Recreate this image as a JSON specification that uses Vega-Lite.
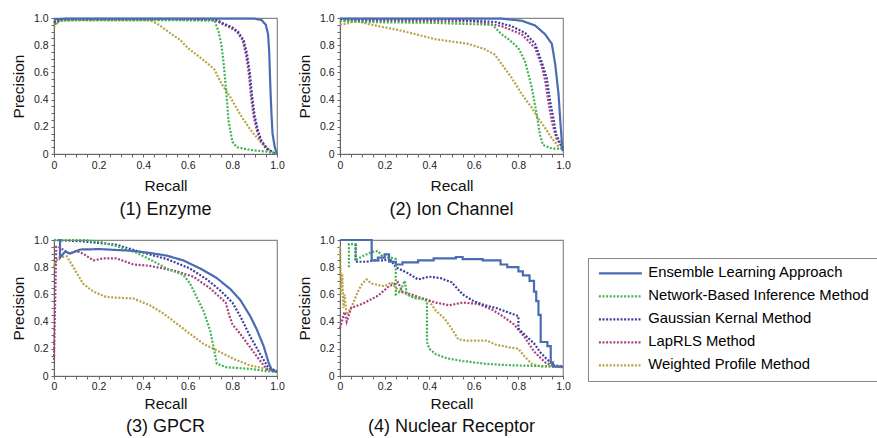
{
  "$schema": "https://vega.github.io/schema/vega-lite/v6.json",
  "padding": {"left": 10, "top": 12, "right": 0, "bottom": 0},
  "autosize": {"type": "pad"},
  "config": {
    "font": "Liberation Sans",
    "view": {"stroke": "#888", "strokeWidth": 1.2},
    "axis": {"labelFontSize": 10.5, "labelColor": "#222", "titleFontSize": 15.5, "titleFontWeight": "normal", "titleColor": "#111", "domainColor": "#666", "tickColor": "#666", "tickSize": 3, "grid": false, "labelFlush": false, "labelOverlap": false},
    "axisX": {"labelPadding": 3, "titlePadding": 8},
    "axisY": {"labelPadding": 3, "titlePadding": 7},
    "title": {"orient": "bottom", "fontSize": 18, "fontWeight": "normal", "anchor": "middle", "frame": "group", "offset": 7, "color": "#111"},
    "line": {"strokeWidth": 2.2, "strokeCap": "butt"},
    "legend": {"orient": "none", "legendX": 534, "legendY": 240, "title": null, "labelFontSize": 14.8, "symbolType": "M-4.3,0H4.3", "symbolSize": 100, "symbolStrokeWidth": 2, "symbolOffset": 17, "labelOffset": 20.5, "strokeColor": "#888", "fillColor": "white", "padding": 8, "rowPadding": 7, "labelLimit": 400}
  },
  "datasets": {
    "enzyme": [
      {"method":"W","recall":0,"precision":0.93},{"method":"W","recall":0.02,"precision":0.98},{"method":"W","recall":0.1,"precision":0.985},{"method":"W","recall":0.43,"precision":0.985},{"method":"W","recall":0.47,"precision":0.95},{"method":"W","recall":0.52,"precision":0.89},{"method":"W","recall":0.565,"precision":0.84},{"method":"W","recall":0.6,"precision":0.78},{"method":"W","recall":0.655,"precision":0.71},{"method":"W","recall":0.7,"precision":0.65},{"method":"W","recall":0.72,"precision":0.62},{"method":"W","recall":0.75,"precision":0.52},{"method":"W","recall":0.79,"precision":0.42},{"method":"W","recall":0.835,"precision":0.29},{"method":"W","recall":0.88,"precision":0.18},{"method":"W","recall":0.925,"precision":0.09},{"method":"W","recall":0.97,"precision":0.025},{"method":"W","recall":1.0,"precision":0},
      {"method":"L","recall":0,"precision":0.96},{"method":"L","recall":0.03,"precision":0.985},{"method":"L","recall":0.5,"precision":0.99},{"method":"L","recall":0.72,"precision":0.985},{"method":"L","recall":0.75,"precision":0.96},{"method":"L","recall":0.79,"precision":0.93},{"method":"L","recall":0.82,"precision":0.9},{"method":"L","recall":0.845,"precision":0.84},{"method":"L","recall":0.86,"precision":0.74},{"method":"L","recall":0.873,"precision":0.6},{"method":"L","recall":0.883,"precision":0.43},{"method":"L","recall":0.895,"precision":0.28},{"method":"L","recall":0.91,"precision":0.17},{"method":"L","recall":0.925,"precision":0.1},{"method":"L","recall":0.95,"precision":0.04},{"method":"L","recall":0.985,"precision":0.005},{"method":"L","recall":1.0,"precision":0},
      {"method":"G","recall":0,"precision":0.97},{"method":"G","recall":0.03,"precision":0.99},{"method":"G","recall":0.5,"precision":0.99},{"method":"G","recall":0.73,"precision":0.985},{"method":"G","recall":0.76,"precision":0.96},{"method":"G","recall":0.8,"precision":0.93},{"method":"G","recall":0.825,"precision":0.9},{"method":"G","recall":0.85,"precision":0.84},{"method":"G","recall":0.865,"precision":0.74},{"method":"G","recall":0.878,"precision":0.6},{"method":"G","recall":0.888,"precision":0.43},{"method":"G","recall":0.9,"precision":0.28},{"method":"G","recall":0.915,"precision":0.17},{"method":"G","recall":0.93,"precision":0.1},{"method":"G","recall":0.955,"precision":0.04},{"method":"G","recall":0.99,"precision":0.005},{"method":"G","recall":1.0,"precision":0},
      {"method":"N","recall":0,"precision":0.95},{"method":"N","recall":0.03,"precision":0.98},{"method":"N","recall":0.1,"precision":0.985},{"method":"N","recall":0.5,"precision":0.985},{"method":"N","recall":0.72,"precision":0.98},{"method":"N","recall":0.738,"precision":0.9},{"method":"N","recall":0.75,"precision":0.81},{"method":"N","recall":0.76,"precision":0.68},{"method":"N","recall":0.775,"precision":0.41},{"method":"N","recall":0.783,"precision":0.24},{"method":"N","recall":0.8,"precision":0.09},{"method":"N","recall":0.82,"precision":0.05},{"method":"N","recall":0.88,"precision":0.03},{"method":"N","recall":0.955,"precision":0.017},{"method":"N","recall":1.0,"precision":0},
      {"method":"E","recall":0,"precision":0.99},{"method":"E","recall":0.05,"precision":0.995},{"method":"E","recall":0.5,"precision":0.995},{"method":"E","recall":0.9,"precision":0.995},{"method":"E","recall":0.93,"precision":0.985},{"method":"E","recall":0.95,"precision":0.95},{"method":"E","recall":0.96,"precision":0.88},{"method":"E","recall":0.965,"precision":0.75},{"method":"E","recall":0.97,"precision":0.5},{"method":"E","recall":0.975,"precision":0.3},{"method":"E","recall":0.98,"precision":0.15},{"method":"E","recall":0.99,"precision":0.05},{"method":"E","recall":1.0,"precision":0}
    ],
    "ion": [
      {"method":"W","recall":0,"precision":0.95},{"method":"W","recall":0.03,"precision":0.96},{"method":"W","recall":0.08,"precision":0.98},{"method":"W","recall":0.127,"precision":0.955},{"method":"W","recall":0.277,"precision":0.906},{"method":"W","recall":0.426,"precision":0.845},{"method":"W","recall":0.575,"precision":0.81},{"method":"W","recall":0.65,"precision":0.77},{"method":"W","recall":0.695,"precision":0.73},{"method":"W","recall":0.725,"precision":0.66},{"method":"W","recall":0.77,"precision":0.56},{"method":"W","recall":0.815,"precision":0.44},{"method":"W","recall":0.86,"precision":0.34},{"method":"W","recall":0.89,"precision":0.26},{"method":"W","recall":0.92,"precision":0.19},{"method":"W","recall":0.95,"precision":0.116},{"method":"W","recall":0.98,"precision":0.054},{"method":"W","recall":1.0,"precision":0.037},
      {"method":"L","recall":0,"precision":0.98},{"method":"L","recall":0.6,"precision":0.975},{"method":"L","recall":0.725,"precision":0.94},{"method":"L","recall":0.815,"precision":0.88},{"method":"L","recall":0.875,"precision":0.78},{"method":"L","recall":0.904,"precision":0.65},{"method":"L","recall":0.92,"precision":0.54},{"method":"L","recall":0.934,"precision":0.39},{"method":"L","recall":0.95,"precision":0.24},{"method":"L","recall":0.97,"precision":0.116},{"method":"L","recall":1.0,"precision":0.04},
      {"method":"G","recall":0,"precision":0.99},{"method":"G","recall":0.5,"precision":0.99},{"method":"G","recall":0.7,"precision":0.97},{"method":"G","recall":0.77,"precision":0.94},{"method":"G","recall":0.83,"precision":0.89},{"method":"G","recall":0.875,"precision":0.81},{"method":"G","recall":0.904,"precision":0.68},{"method":"G","recall":0.927,"precision":0.56},{"method":"G","recall":0.94,"precision":0.41},{"method":"G","recall":0.957,"precision":0.26},{"method":"G","recall":0.97,"precision":0.14},{"method":"G","recall":1.0,"precision":0.04},
      {"method":"N","recall":0,"precision":0.98},{"method":"N","recall":0.1,"precision":0.97},{"method":"N","recall":0.4,"precision":0.965},{"method":"N","recall":0.68,"precision":0.95},{"method":"N","recall":0.695,"precision":0.93},{"method":"N","recall":0.725,"precision":0.88},{"method":"N","recall":0.755,"precision":0.845},{"method":"N","recall":0.8,"precision":0.78},{"method":"N","recall":0.83,"precision":0.68},{"method":"N","recall":0.86,"precision":0.49},{"method":"N","recall":0.88,"precision":0.31},{"method":"N","recall":0.897,"precision":0.14},{"method":"N","recall":0.91,"precision":0.067},{"method":"N","recall":0.95,"precision":0.04},{"method":"N","recall":1.0,"precision":0.037},
      {"method":"E","recall":0,"precision":0.995},{"method":"E","recall":0.5,"precision":0.995},{"method":"E","recall":0.725,"precision":0.995},{"method":"E","recall":0.815,"precision":0.98},{"method":"E","recall":0.875,"precision":0.945},{"method":"E","recall":0.92,"precision":0.88},{"method":"E","recall":0.95,"precision":0.81},{"method":"E","recall":0.965,"precision":0.66},{"method":"E","recall":0.98,"precision":0.44},{"method":"E","recall":0.988,"precision":0.24},{"method":"E","recall":0.997,"precision":0.04},{"method":"E","recall":1.0,"precision":0.02}
    ],
    "gpcr": [
      {"method":"W","recall":0,"precision":0.8},{"method":"W","recall":0.005,"precision":0.83},{"method":"W","recall":0.02,"precision":0.87},{"method":"W","recall":0.057,"precision":0.88},{"method":"W","recall":0.087,"precision":0.8},{"method":"W","recall":0.13,"precision":0.68},{"method":"W","recall":0.177,"precision":0.62},{"method":"W","recall":0.236,"precision":0.58},{"method":"W","recall":0.356,"precision":0.57},{"method":"W","recall":0.43,"precision":0.52},{"method":"W","recall":0.49,"precision":0.46},{"method":"W","recall":0.55,"precision":0.385},{"method":"W","recall":0.61,"precision":0.31},{"method":"W","recall":0.67,"precision":0.237},{"method":"W","recall":0.73,"precision":0.188},{"method":"W","recall":0.805,"precision":0.126},{"method":"W","recall":0.88,"precision":0.077},{"method":"W","recall":0.955,"precision":0.052},{"method":"W","recall":1.0,"precision":0.035},
      {"method":"L","recall":0,"precision":0.12},{"method":"L","recall":0.01,"precision":0.95},{"method":"L","recall":0.02,"precision":0.95},{"method":"L","recall":0.04,"precision":0.93},{"method":"L","recall":0.07,"precision":0.9},{"method":"L","recall":0.1,"precision":0.92},{"method":"L","recall":0.13,"precision":0.9},{"method":"L","recall":0.177,"precision":0.85},{"method":"L","recall":0.22,"precision":0.865},{"method":"L","recall":0.28,"precision":0.865},{"method":"L","recall":0.356,"precision":0.82},{"method":"L","recall":0.43,"precision":0.81},{"method":"L","recall":0.55,"precision":0.77},{"method":"L","recall":0.625,"precision":0.73},{"method":"L","recall":0.7,"precision":0.645},{"method":"L","recall":0.77,"precision":0.54},{"method":"L","recall":0.785,"precision":0.45},{"method":"L","recall":0.8,"precision":0.38},{"method":"L","recall":0.835,"precision":0.31},{"method":"L","recall":0.88,"precision":0.21},{"method":"L","recall":0.925,"precision":0.11},{"method":"L","recall":0.955,"precision":0.05},{"method":"L","recall":1.0,"precision":0.035},
      {"method":"G","recall":0,"precision":1.0},{"method":"G","recall":0.13,"precision":0.99},{"method":"G","recall":0.28,"precision":0.965},{"method":"G","recall":0.37,"precision":0.92},{"method":"G","recall":0.506,"precision":0.86},{"method":"G","recall":0.61,"precision":0.79},{"method":"G","recall":0.685,"precision":0.71},{"method":"G","recall":0.745,"precision":0.63},{"method":"G","recall":0.8,"precision":0.54},{"method":"G","recall":0.835,"precision":0.44},{"method":"G","recall":0.88,"precision":0.29},{"method":"G","recall":0.925,"precision":0.16},{"method":"G","recall":0.96,"precision":0.064},{"method":"G","recall":1.0,"precision":0.035},
      {"method":"N","recall":0,"precision":1.0},{"method":"N","recall":0.13,"precision":1.0},{"method":"N","recall":0.2,"precision":0.99},{"method":"N","recall":0.28,"precision":0.955},{"method":"N","recall":0.37,"precision":0.906},{"method":"N","recall":0.43,"precision":0.857},{"method":"N","recall":0.506,"precision":0.79},{"method":"N","recall":0.58,"precision":0.743},{"method":"N","recall":0.61,"precision":0.68},{"method":"N","recall":0.64,"precision":0.58},{"method":"N","recall":0.67,"precision":0.48},{"method":"N","recall":0.7,"precision":0.336},{"method":"N","recall":0.716,"precision":0.21},{"method":"N","recall":0.73,"precision":0.09},{"method":"N","recall":0.775,"precision":0.064},{"method":"N","recall":0.88,"precision":0.052},{"method":"N","recall":0.955,"precision":0.035},{"method":"N","recall":1.0,"precision":0.03},
      {"method":"E","recall":0.02,"precision":1.0},{"method":"E","recall":0.027,"precision":1.0},{"method":"E","recall":0.027,"precision":0.87},{"method":"E","recall":0.05,"precision":0.915},{"method":"E","recall":0.072,"precision":0.9},{"method":"E","recall":0.117,"precision":0.93},{"method":"E","recall":0.207,"precision":0.933},{"method":"E","recall":0.356,"precision":0.92},{"method":"E","recall":0.43,"precision":0.905},{"method":"E","recall":0.506,"precision":0.885},{"method":"E","recall":0.58,"precision":0.85},{"method":"E","recall":0.656,"precision":0.79},{"method":"E","recall":0.73,"precision":0.72},{"method":"E","recall":0.79,"precision":0.64},{"method":"E","recall":0.835,"precision":0.56},{"method":"E","recall":0.88,"precision":0.44},{"method":"E","recall":0.91,"precision":0.34},{"method":"E","recall":0.94,"precision":0.22},{"method":"E","recall":0.962,"precision":0.1},{"method":"E","recall":0.978,"precision":0.04},{"method":"E","recall":1.0,"precision":0.03}
    ],
    "nuclear": [
      {"method":"W","recall":0,"precision":0.95},{"method":"W","recall":0.005,"precision":0.6},{"method":"W","recall":0.01,"precision":0.75},{"method":"W","recall":0.015,"precision":0.5},{"method":"W","recall":0.02,"precision":0.6},{"method":"W","recall":0.03,"precision":0.45},{"method":"W","recall":0.05,"precision":0.5},{"method":"W","recall":0.08,"precision":0.62},{"method":"W","recall":0.1,"precision":0.68},{"method":"W","recall":0.12,"precision":0.71},{"method":"W","recall":0.14,"precision":0.68},{"method":"W","recall":0.17,"precision":0.67},{"method":"W","recall":0.2,"precision":0.66},{"method":"W","recall":0.23,"precision":0.69},{"method":"W","recall":0.26,"precision":0.63},{"method":"W","recall":0.3,"precision":0.6},{"method":"W","recall":0.34,"precision":0.57},{"method":"W","recall":0.38,"precision":0.57},{"method":"W","recall":0.4,"precision":0.55},{"method":"W","recall":0.43,"precision":0.48},{"method":"W","recall":0.47,"precision":0.42},{"method":"W","recall":0.5,"precision":0.35},{"method":"W","recall":0.53,"precision":0.27},{"method":"W","recall":0.57,"precision":0.26},{"method":"W","recall":0.62,"precision":0.26},{"method":"W","recall":0.66,"precision":0.26},{"method":"W","recall":0.7,"precision":0.23},{"method":"W","recall":0.76,"precision":0.21},{"method":"W","recall":0.8,"precision":0.2},{"method":"W","recall":0.83,"precision":0.14},{"method":"W","recall":0.86,"precision":0.09},{"method":"W","recall":0.9,"precision":0.07},{"method":"W","recall":1.0,"precision":0.065},
      {"method":"L","recall":0,"precision":0.35},{"method":"L","recall":0.02,"precision":0.47},{"method":"L","recall":0.03,"precision":0.4},{"method":"L","recall":0.05,"precision":0.5},{"method":"L","recall":0.1,"precision":0.53},{"method":"L","recall":0.17,"precision":0.59},{"method":"L","recall":0.22,"precision":0.66},{"method":"L","recall":0.26,"precision":0.69},{"method":"L","recall":0.28,"precision":0.62},{"method":"L","recall":0.32,"precision":0.6},{"method":"L","recall":0.37,"precision":0.57},{"method":"L","recall":0.43,"precision":0.54},{"method":"L","recall":0.49,"precision":0.52},{"method":"L","recall":0.55,"precision":0.54},{"method":"L","recall":0.62,"precision":0.53},{"method":"L","recall":0.68,"precision":0.49},{"method":"L","recall":0.72,"precision":0.45},{"method":"L","recall":0.78,"precision":0.38},{"method":"L","recall":0.83,"precision":0.28},{"method":"L","recall":0.87,"precision":0.18},{"method":"L","recall":0.92,"precision":0.1},{"method":"L","recall":0.96,"precision":0.07},{"method":"L","recall":1.0,"precision":0.065},
      {"method":"G","recall":0.07,"precision":0.97},{"method":"G","recall":0.07,"precision":0.84},{"method":"G","recall":0.12,"precision":0.84},{"method":"G","recall":0.15,"precision":0.85},{"method":"G","recall":0.2,"precision":0.85},{"method":"G","recall":0.22,"precision":0.87},{"method":"G","recall":0.25,"precision":0.8},{"method":"G","recall":0.3,"precision":0.76},{"method":"G","recall":0.35,"precision":0.71},{"method":"G","recall":0.4,"precision":0.73},{"method":"G","recall":0.45,"precision":0.72},{"method":"G","recall":0.5,"precision":0.69},{"method":"G","recall":0.55,"precision":0.6},{"method":"G","recall":0.6,"precision":0.55},{"method":"G","recall":0.65,"precision":0.52},{"method":"G","recall":0.7,"precision":0.5},{"method":"G","recall":0.75,"precision":0.47},{"method":"G","recall":0.8,"precision":0.44},{"method":"G","recall":0.8,"precision":0.35},{"method":"G","recall":0.83,"precision":0.3},{"method":"G","recall":0.87,"precision":0.24},{"method":"G","recall":0.9,"precision":0.17},{"method":"G","recall":0.93,"precision":0.12},{"method":"G","recall":0.96,"precision":0.08},{"method":"G","recall":1.0,"precision":0.07},
      {"method":"N","recall":0.04,"precision":0.8},{"method":"N","recall":0.04,"precision":0.97},{"method":"N","recall":0.07,"precision":0.97},{"method":"N","recall":0.07,"precision":0.85},{"method":"N","recall":0.1,"precision":0.88},{"method":"N","recall":0.14,"precision":0.91},{"method":"N","recall":0.17,"precision":0.92},{"method":"N","recall":0.19,"precision":0.88},{"method":"N","recall":0.23,"precision":0.87},{"method":"N","recall":0.25,"precision":0.86},{"method":"N","recall":0.25,"precision":0.6},{"method":"N","recall":0.27,"precision":0.62},{"method":"N","recall":0.29,"precision":0.7},{"method":"N","recall":0.3,"precision":0.6},{"method":"N","recall":0.33,"precision":0.58},{"method":"N","recall":0.38,"precision":0.56},{"method":"N","recall":0.39,"precision":0.55},{"method":"N","recall":0.39,"precision":0.25},{"method":"N","recall":0.4,"precision":0.2},{"method":"N","recall":0.43,"precision":0.16},{"method":"N","recall":0.48,"precision":0.13},{"method":"N","recall":0.55,"precision":0.11},{"method":"N","recall":0.65,"precision":0.09},{"method":"N","recall":0.75,"precision":0.08},{"method":"N","recall":0.85,"precision":0.075},{"method":"N","recall":1.0,"precision":0.07},
      {"method":"E","recall":0,"precision":1.0},{"method":"E","recall":0.142,"precision":1.0},{"method":"E","recall":0.142,"precision":0.85},{"method":"E","recall":0.17,"precision":0.85},{"method":"E","recall":0.17,"precision":0.87},{"method":"E","recall":0.2,"precision":0.87},{"method":"E","recall":0.2,"precision":0.895},{"method":"E","recall":0.22,"precision":0.895},{"method":"E","recall":0.22,"precision":0.84},{"method":"E","recall":0.25,"precision":0.84},{"method":"E","recall":0.25,"precision":0.82},{"method":"E","recall":0.28,"precision":0.82},{"method":"E","recall":0.28,"precision":0.835},{"method":"E","recall":0.35,"precision":0.835},{"method":"E","recall":0.35,"precision":0.85},{"method":"E","recall":0.42,"precision":0.85},{"method":"E","recall":0.42,"precision":0.865},{"method":"E","recall":0.52,"precision":0.865},{"method":"E","recall":0.52,"precision":0.875},{"method":"E","recall":0.55,"precision":0.875},{"method":"E","recall":0.55,"precision":0.86},{"method":"E","recall":0.64,"precision":0.86},{"method":"E","recall":0.64,"precision":0.85},{"method":"E","recall":0.72,"precision":0.85},{"method":"E","recall":0.72,"precision":0.82},{"method":"E","recall":0.75,"precision":0.82},{"method":"E","recall":0.75,"precision":0.8},{"method":"E","recall":0.8,"precision":0.8},{"method":"E","recall":0.8,"precision":0.77},{"method":"E","recall":0.82,"precision":0.77},{"method":"E","recall":0.82,"precision":0.74},{"method":"E","recall":0.85,"precision":0.74},{"method":"E","recall":0.85,"precision":0.7},{"method":"E","recall":0.87,"precision":0.7},{"method":"E","recall":0.87,"precision":0.62},{"method":"E","recall":0.88,"precision":0.62},{"method":"E","recall":0.88,"precision":0.55},{"method":"E","recall":0.89,"precision":0.55},{"method":"E","recall":0.89,"precision":0.45},{"method":"E","recall":0.9,"precision":0.45},{"method":"E","recall":0.9,"precision":0.25},{"method":"E","recall":0.93,"precision":0.25},{"method":"E","recall":0.93,"precision":0.22},{"method":"E","recall":0.945,"precision":0.22},{"method":"E","recall":0.945,"precision":0.1},{"method":"E","recall":0.955,"precision":0.1},{"method":"E","recall":0.955,"precision":0.07},{"method":"E","recall":1.0,"precision":0.07}
    ]
  },
  "columns": 2,
  "spacing": {"row": 14, "column": 11},
  "concat": [
    {
      "width": 223, "height": 136,
      "data": {"name": "enzyme"},
      "title": "(1) Enzyme",
      "mark": {"type": "line"},
      "encoding": {
        "x": {"field": "recall", "type": "quantitative", "scale": {"domain": [0, 1], "nice": false}, "axis": {"title": "Recall", "values": [0,0.05,0.1,0.15,0.2,0.25,0.3,0.35,0.4,0.45,0.5,0.55,0.6,0.65,0.7,0.75,0.8,0.85,0.9,0.95,1], "labelExpr": "datum.value == 0 ? '0' : (abs(datum.value*5 - round(datum.value*5)) < 0.001 ? format(datum.value, '.1f') : '')"}},
        "y": {"field": "precision", "type": "quantitative", "scale": {"domain": [0, 1], "nice": false}, "axis": {"title": "Precision", "values": [0,0.05,0.1,0.15,0.2,0.25,0.3,0.35,0.4,0.45,0.5,0.55,0.6,0.65,0.7,0.75,0.8,0.85,0.9,0.95,1], "labelExpr": "datum.value == 0 ? '0' : (abs(datum.value*5 - round(datum.value*5)) < 0.001 ? format(datum.value, '.1f') : '')"}},
        "color": {"field": "method", "type": "nominal", "scale": {"domain": ["E","N","G","L","W"], "range": ["#4a6cb3","#40b450","#3c3fa0","#a8407f","#b9a445"]}, "legend": {"labelExpr": "datum.value == 'E' ? 'Ensemble Learning Approach' : datum.value == 'N' ? 'Network-Based Inference Method' : datum.value == 'G' ? 'Gaussian Kernal Method' : datum.value == 'L' ? 'LapRLS Method' : 'Weighted Profile Method'", "encode": {"labels": {"update": {"fill": {"signal": "datum.value == 'E' ? '#4a66b0' : datum.value == 'N' ? '#3aab4a' : datum.value == 'G' ? '#35389a' : datum.value == 'L' ? '#a23f7e' : '#b29c45'"}}}}}},
        "strokeDash": {"field": "method", "type": "nominal", "scale": {"domain": ["E","N","G","L","W"], "range": [[1,0],[2,1.6],[2,1.6],[2,1.6],[2,1.6]]}}
      }
    },
    {
      "width": 223, "height": 136,
      "data": {"name": "ion"},
      "title": "(2) Ion Channel",
      "mark": {"type": "line"},
      "encoding": {
        "x": {"field": "recall", "type": "quantitative", "scale": {"domain": [0, 1], "nice": false}, "axis": {"title": "Recall", "values": [0,0.05,0.1,0.15,0.2,0.25,0.3,0.35,0.4,0.45,0.5,0.55,0.6,0.65,0.7,0.75,0.8,0.85,0.9,0.95,1], "labelExpr": "datum.value == 0 ? '0' : (abs(datum.value*5 - round(datum.value*5)) < 0.001 ? format(datum.value, '.1f') : '')"}},
        "y": {"field": "precision", "type": "quantitative", "scale": {"domain": [0, 1], "nice": false}, "axis": {"title": "Precision", "values": [0,0.05,0.1,0.15,0.2,0.25,0.3,0.35,0.4,0.45,0.5,0.55,0.6,0.65,0.7,0.75,0.8,0.85,0.9,0.95,1], "labelExpr": "datum.value == 0 ? '0' : (abs(datum.value*5 - round(datum.value*5)) < 0.001 ? format(datum.value, '.1f') : '')"}},
        "color": {"field": "method", "type": "nominal", "scale": {"domain": ["E","N","G","L","W"], "range": ["#4a6cb3","#40b450","#3c3fa0","#a8407f","#b9a445"]}, "legend": {"labelExpr": "datum.value == 'E' ? 'Ensemble Learning Approach' : datum.value == 'N' ? 'Network-Based Inference Method' : datum.value == 'G' ? 'Gaussian Kernal Method' : datum.value == 'L' ? 'LapRLS Method' : 'Weighted Profile Method'", "encode": {"labels": {"update": {"fill": {"signal": "datum.value == 'E' ? '#4a66b0' : datum.value == 'N' ? '#3aab4a' : datum.value == 'G' ? '#35389a' : datum.value == 'L' ? '#a23f7e' : '#b29c45'"}}}}}},
        "strokeDash": {"field": "method", "type": "nominal", "scale": {"domain": ["E","N","G","L","W"], "range": [[1,0],[2,1.6],[2,1.6],[2,1.6],[2,1.6]]}}
      }
    },
    {
      "width": 223, "height": 136,
      "data": {"name": "gpcr"},
      "title": {"text": "(3) GPCR", "offset": 6},
      "mark": {"type": "line"},
      "encoding": {
        "x": {"field": "recall", "type": "quantitative", "scale": {"domain": [0, 1], "nice": false}, "axis": {"title": "Recall", "labelPadding": 2, "titlePadding": 5, "values": [0,0.05,0.1,0.15,0.2,0.25,0.3,0.35,0.4,0.45,0.5,0.55,0.6,0.65,0.7,0.75,0.8,0.85,0.9,0.95,1], "labelExpr": "datum.value == 0 ? '0' : (abs(datum.value*5 - round(datum.value*5)) < 0.001 ? format(datum.value, '.1f') : '')"}},
        "y": {"field": "precision", "type": "quantitative", "scale": {"domain": [0, 1], "nice": false}, "axis": {"title": "Precision", "values": [0,0.05,0.1,0.15,0.2,0.25,0.3,0.35,0.4,0.45,0.5,0.55,0.6,0.65,0.7,0.75,0.8,0.85,0.9,0.95,1], "labelExpr": "datum.value == 0 ? '0' : (abs(datum.value*5 - round(datum.value*5)) < 0.001 ? format(datum.value, '.1f') : '')"}},
        "color": {"field": "method", "type": "nominal", "scale": {"domain": ["E","N","G","L","W"], "range": ["#4a6cb3","#40b450","#3c3fa0","#a8407f","#b9a445"]}, "legend": {"labelExpr": "datum.value == 'E' ? 'Ensemble Learning Approach' : datum.value == 'N' ? 'Network-Based Inference Method' : datum.value == 'G' ? 'Gaussian Kernal Method' : datum.value == 'L' ? 'LapRLS Method' : 'Weighted Profile Method'", "encode": {"labels": {"update": {"fill": {"signal": "datum.value == 'E' ? '#4a66b0' : datum.value == 'N' ? '#3aab4a' : datum.value == 'G' ? '#35389a' : datum.value == 'L' ? '#a23f7e' : '#b29c45'"}}}}}},
        "strokeDash": {"field": "method", "type": "nominal", "scale": {"domain": ["E","N","G","L","W"], "range": [[1,0],[2,1.6],[2,1.6],[2,1.6],[2,1.6]]}}
      }
    },
    {
      "width": 223, "height": 136,
      "data": {"name": "nuclear"},
      "title": {"text": "(4) Nuclear Receptor", "offset": 6},
      "mark": {"type": "line"},
      "encoding": {
        "x": {"field": "recall", "type": "quantitative", "scale": {"domain": [0, 1], "nice": false}, "axis": {"title": "Recall", "labelPadding": 2, "titlePadding": 5, "values": [0,0.05,0.1,0.15,0.2,0.25,0.3,0.35,0.4,0.45,0.5,0.55,0.6,0.65,0.7,0.75,0.8,0.85,0.9,0.95,1], "labelExpr": "datum.value == 0 ? '0' : (abs(datum.value*5 - round(datum.value*5)) < 0.001 ? format(datum.value, '.1f') : '')"}},
        "y": {"field": "precision", "type": "quantitative", "scale": {"domain": [0, 1], "nice": false}, "axis": {"title": "Precision", "values": [0,0.05,0.1,0.15,0.2,0.25,0.3,0.35,0.4,0.45,0.5,0.55,0.6,0.65,0.7,0.75,0.8,0.85,0.9,0.95,1], "labelExpr": "datum.value == 0 ? '0' : (abs(datum.value*5 - round(datum.value*5)) < 0.001 ? format(datum.value, '.1f') : '')"}},
        "color": {"field": "method", "type": "nominal", "scale": {"domain": ["E","N","G","L","W"], "range": ["#4a6cb3","#40b450","#3c3fa0","#a8407f","#b9a445"]}, "legend": {"labelExpr": "datum.value == 'E' ? 'Ensemble Learning Approach' : datum.value == 'N' ? 'Network-Based Inference Method' : datum.value == 'G' ? 'Gaussian Kernal Method' : datum.value == 'L' ? 'LapRLS Method' : 'Weighted Profile Method'", "encode": {"labels": {"update": {"fill": {"signal": "datum.value == 'E' ? '#4a66b0' : datum.value == 'N' ? '#3aab4a' : datum.value == 'G' ? '#35389a' : datum.value == 'L' ? '#a23f7e' : '#b29c45'"}}}}}},
        "strokeDash": {"field": "method", "type": "nominal", "scale": {"domain": ["E","N","G","L","W"], "range": [[1,0],[2,1.6],[2,1.6],[2,1.6],[2,1.6]]}}
      }
    }
  ]
}
